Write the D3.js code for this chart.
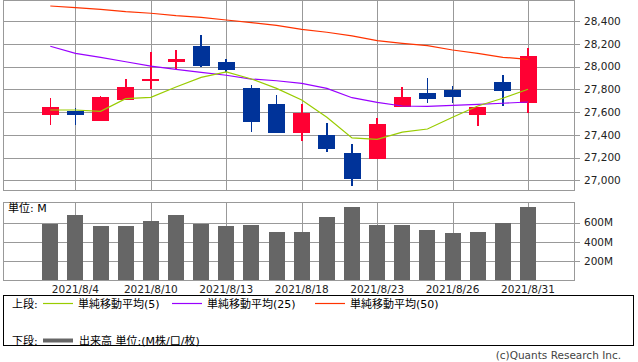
<!DOCTYPE html>
<html>
<head>
<meta charset="utf-8">
<script src="https://cdn.jsdelivr.net/npm/d3@7"></script>
<style>
  body { margin: 0; background: #fff; }
  text { font-family: "DejaVu Sans", "Noto Sans CJK JP", sans-serif; }
</style>
</head>
<body>
<div id="chart"></div>
<script>
// Data
const dates = ["2021/8/3", "2021/8/4", "2021/8/5", "2021/8/6", "2021/8/10", "2021/8/11", "2021/8/12",
  "2021/8/13", "2021/8/16", "2021/8/17", "2021/8/18", "2021/8/19", "2021/8/20", "2021/8/23",
  "2021/8/24", "2021/8/25", "2021/8/26", "2021/8/27", "2021/8/30", "2021/8/31"];
const open = [27574, 27612, 27521, 27708, 27880, 28040, 28180, 28040, 27811, 27670,
  27416, 27398, 27240, 27187, 27644, 27767, 27794, 27574, 27864, 27679];
const close = [27644, 27574, 27732, 27820, 27888, 28066, 28004, 27969, 27512, 27416,
  27591, 27275, 27011, 27495, 27732, 27714, 27732, 27644, 27785, 28092];
const high = [27723, 27635, 27741, 27890, 28127, 28145, 28277, 28066, 27837, 27750,
  27670, 27504, 27319, 27550, 27820, 27899, 27829, 27644, 27925, 28163];
const low = [27486, 27486, 27521, 27706, 27800, 27978, 27998, 27952, 27424, 27416,
  27345, 27249, 26950, 27187, 27644, 27679, 27679, 27477, 27653, 27591];
const ma5 = [27618, 27618, 27606, 27717, 27729, 27820, 27905, 27952, 27890, 27808,
  27706, 27554, 27372, 27360, 27424, 27451, 27554, 27653, 27721, 27800];
const ma25 = [28178, 28116, 28081, 28042, 28004, 27975, 27949, 27923, 27890, 27875,
  27852, 27808, 27726, 27685, 27653, 27650, 27659, 27668, 27677, 27688];
const ma50 = [28532, 28517, 28503, 28482, 28468, 28447, 28432, 28409, 28385, 28362,
  28327, 28301, 28269, 28227, 28204, 28183, 28145, 28116, 28081, 28063];
const volume = [588, 678, 564, 564, 616, 678, 588, 564, 574, 502,
  502, 657, 761, 574, 574, 522, 491, 502, 595, 761];
const labelIdx = [1, 4, 7, 10, 13, 16, 19];
const priceTicks = [27000, 27200, 27400, 27600, 27800, 28000, 28200, 28400];
const volTicks = [200, 400, 600];

const width = 638;
const height = 362;
const panel = { left: 3, right: 574 };
const top1 = { top: 0, bottom: 190 };
const top2 = { top: 201.5, bottom: 280.3 };
const gridColor = "#999";
const upColor = "#ff0033";
const downColor = "#003399";

const svg = d3.select("div#chart").append("svg")
  .attr("width", width).attr("height", height);

svg.append("rect").attr("width", width).attr("height", height).attr("fill", "#fff");

// Scales
const x = d3.scaleLinear().domain([0, dates.length - 1]).range([50.3, 528]);
const y = d3.scaleLinear().domain([27000, 28400]).range([180.3, 21]);
const yv = d3.scaleLinear().domain([0, 800]).range([top2.bottom, top2.bottom - 800 * 0.0963]);

const gridGroup = svg.append("g").attr("shape-rendering", "crispEdges");

function drawPanel(p, ticks, scale) {
  // horizontal grid + tick marks
  gridGroup.selectAll(null).data(ticks).enter().append("line")
    .attr("x1", panel.left).attr("x2", panel.right + 6)
    .attr("y1", (d) => Math.round(scale(d)) + 0.5)
    .attr("y2", (d) => Math.round(scale(d)) + 0.5)
    .attr("stroke", gridColor);
  // vertical grid
  gridGroup.selectAll(null).data(labelIdx).enter().append("line")
    .attr("x1", (d) => Math.round(x(d)) + 0.5)
    .attr("x2", (d) => Math.round(x(d)) + 0.5)
    .attr("y1", p.top).attr("y2", p.bottom)
    .attr("stroke", gridColor);
  gridGroup.append("rect")
    .attr("x", panel.left + 0.5).attr("y", p.top + 0.5)
    .attr("width", panel.right - panel.left).attr("height", p.bottom - p.top)
    .attr("fill", "none").attr("stroke", gridColor);
}
drawPanel(top1, priceTicks, y);
drawPanel(top2, volTicks, yv);

// Axis labels
svg.append("g").selectAll("text").data(priceTicks).enter().append("text")
  .attr("x", 584).attr("y", (d) => y(d)).attr("dy", "0.36em")
  .attr("font-size", 10.5).attr("fill", "#222")
  .text((d) => d3.format(",")(d));

svg.append("g").selectAll("text").data(volTicks).enter().append("text")
  .attr("x", 584).attr("y", (d) => yv(d)).attr("dy", "0.36em")
  .attr("font-size", 10.5).attr("fill", "#222")
  .text((d) => d + "M");

svg.append("g").selectAll("text").data(labelIdx).enter().append("text")
  .attr("x", (d) => x(d)).attr("y", 289).attr("dy", "0.36em")
  .attr("text-anchor", "middle")
  .attr("font-size", 10.5).attr("fill", "#222")
  .text((d) => dates[d]);

svg.append("text").attr("x", 8).attr("y", 208).attr("dy", "0.36em")
  .attr("font-size", 11).attr("fill", "#000").text("単位: M");

// Volume bars
svg.append("g").selectAll("rect").data(volume).enter().append("rect")
  .attr("x", (d, i) => x(i) - 8).attr("width", 16)
  .attr("y", (d) => yv(d)).attr("height", (d) => yv(0) - yv(d))
  .attr("fill", "#666").attr("shape-rendering", "crispEdges");

// Candles
const candles = svg.append("g").attr("shape-rendering", "crispEdges")
  .selectAll("g").data(dates).enter().append("g");

candles.append("line")
  .attr("x1", (d, i) => x(i)).attr("x2", (d, i) => x(i))
  .attr("y1", (d, i) => y(high[i])).attr("y2", (d, i) => y(low[i]))
  .attr("stroke-width", 1.6)
  .attr("stroke", (d, i) => close[i] >= open[i] ? upColor : downColor);

candles.append("rect")
  .attr("x", (d, i) => x(i) - 8.5).attr("width", 17)
  .attr("y", (d, i) => y(Math.max(open[i], close[i])))
  .attr("height", (d, i) => Math.max(1.5, Math.abs(y(open[i]) - y(close[i]))))
  .attr("fill", (d, i) => close[i] >= open[i] ? upColor : downColor);

// Moving averages
const line = d3.line().x((d, i) => x(i)).y((d) => y(d));
const maSeries = [
  { values: ma50, color: "#ff3300" },
  { values: ma25, color: "#9900ff" },
  { values: ma5, color: "#99cc00" },
];
svg.append("g").selectAll("path").data(maSeries).enter().append("path")
  .attr("d", (d) => line(d.values))
  .attr("fill", "none").attr("stroke", (d) => d.color).attr("stroke-width", 1.2);

// Legend
const legend = svg.append("g");
legend.append("rect").attr("x", 3.5).attr("y", 295.5).attr("width", 630).attr("height", 50)
  .attr("fill", "none").attr("stroke", "#000").attr("shape-rendering", "crispEdges");

legend.append("text").attr("x", 12).attr("y", 304).attr("dy", "0.36em")
  .attr("font-size", 11).text("上段:");
const legendItems = [
  { x: 43, label: "単純移動平均(5)", color: "#99cc00" },
  { x: 172, label: "単純移動平均(25)", color: "#9900ff" },
  { x: 315, label: "単純移動平均(50)", color: "#ff3300" },
];
legendItems.forEach((d) => {
  legend.append("line").attr("x1", d.x).attr("x2", d.x + 30).attr("y1", 303.5).attr("y2", 303.5)
    .attr("stroke", d.color).attr("stroke-width", 1.2);
  legend.append("text").attr("x", d.x + 35).attr("y", 304).attr("dy", "0.36em")
    .attr("font-size", 11).text(d.label);
});

legend.append("text").attr("x", 12).attr("y", 341).attr("dy", "0.36em")
  .attr("font-size", 11).text("下段:");
legend.append("line").attr("x1", 43).attr("x2", 73).attr("y1", 340.5).attr("y2", 340.5)
  .attr("stroke", "#666").attr("stroke-width", 4);
legend.append("text").attr("x", 79).attr("y", 341).attr("dy", "0.36em")
  .attr("font-size", 11).text("出来高 単位:(M株/口/枚)");

svg.append("text").attr("x", 621).attr("y", 355).attr("dy", "0.36em")
  .attr("text-anchor", "end").attr("font-size", 10.5).attr("fill", "#444")
  .text("(c)Quants Research Inc.");
</script>
</body>
</html>
